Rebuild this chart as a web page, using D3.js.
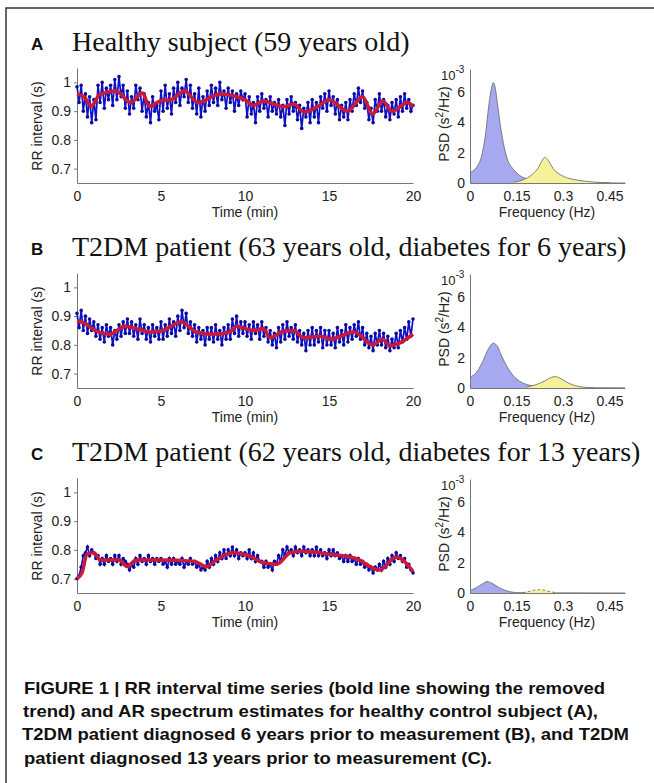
<!DOCTYPE html>
<html lang="en">
<head>
<meta charset="UTF-8">
<title>Figure 1</title>
<style>
  body { margin: 0; background: #fff; }
  svg { display: block; }
</style>
</head>
<body>
<script src="https://d3js.org/d3.v7.min.js"></script>
<script>
// tick labels
let timeTicks = [0, 5, 10, 15, 20];
let rrTicks = [0.7, 0.8, 0.9, 1];
let freqTicks = [0, 0.15, 0.3, 0.45];
let psdTicks = [0, 2, 4, 6];

let panelLetters = ['A', 'B', 'C'];
let panelTitles = [
  'Healthy subject (59 years old)',
  'T2DM patient (63 years old, diabetes for 6 years)',
  'T2DM patient (62 years old, diabetes for 13 years)'
];

// one RR value every 0.125 min (s)
let sampleStep = 0.125;
let rrA = [
  0.985, 0.93, 0.99, 0.90, 0.96, 0.88, 0.95, 0.86,
  0.94, 0.87, 0.99, 0.93, 1.00, 0.91, 0.98, 0.94,
  0.99, 0.92, 1.01, 0.94, 1.02, 0.95, 0.99, 0.91,
  0.97, 0.89, 0.95, 0.91, 0.99, 0.94, 0.98, 0.90,
  0.96, 0.88, 0.93, 0.86, 0.95, 0.90, 0.92, 0.87,
  0.97, 0.90, 0.99, 0.91, 0.96, 0.89, 0.98, 0.93,
  1.00, 0.92, 0.98, 0.95, 1.01, 0.93, 0.99, 0.91,
  0.96, 0.89, 0.98, 0.88, 0.95, 0.90, 0.97, 0.92,
  0.99, 0.93, 0.98, 0.92, 1.00, 0.94, 0.97, 0.91,
  0.98, 0.93, 0.97, 0.90, 0.96, 0.92, 0.97, 0.94,
  0.96, 0.88, 0.95, 0.89, 0.93, 0.86, 0.95, 0.90,
  0.96, 0.91, 0.94, 0.88, 0.95, 0.90, 0.93, 0.89,
  0.94, 0.88, 0.92, 0.85, 0.94, 0.89, 0.95, 0.90,
  0.93, 0.87, 0.92, 0.84, 0.91, 0.88, 0.93, 0.86,
  0.94, 0.88, 0.93, 0.86, 0.95, 0.91, 0.96, 0.90,
  0.97, 0.92, 0.95, 0.89, 0.94, 0.87, 0.92, 0.88,
  0.93, 0.87, 0.94, 0.90, 0.96, 0.92, 0.98, 0.93,
  0.97, 0.91, 0.93, 0.87, 0.91, 0.86, 0.94, 0.90,
  0.96, 0.90, 0.94, 0.88, 0.92, 0.87, 0.93, 0.89,
  0.94, 0.88, 0.95, 0.90, 0.96, 0.91, 0.94, 0.90,
  0.92
];
let rrB = [
  0.91, 0.86, 0.92, 0.85, 0.90, 0.84, 0.89, 0.85,
  0.88, 0.83, 0.87, 0.82, 0.86, 0.81, 0.87, 0.83,
  0.86, 0.80, 0.85, 0.82, 0.87, 0.83, 0.88, 0.84,
  0.89, 0.84, 0.88, 0.83, 0.87, 0.82, 0.89, 0.84,
  0.87, 0.82, 0.86, 0.81, 0.87, 0.83, 0.86, 0.82,
  0.88, 0.82, 0.87, 0.83, 0.89, 0.84, 0.88, 0.83,
  0.90, 0.85, 0.92, 0.86, 0.91, 0.84, 0.88, 0.83,
  0.87, 0.81, 0.86, 0.82, 0.85, 0.80, 0.86, 0.82,
  0.86, 0.81, 0.87, 0.82, 0.85, 0.80, 0.86, 0.82,
  0.87, 0.82, 0.89, 0.84, 0.90, 0.83, 0.88, 0.84,
  0.88, 0.83, 0.87, 0.82, 0.88, 0.84, 0.87, 0.82,
  0.88, 0.83, 0.86, 0.81, 0.85, 0.80, 0.84, 0.79,
  0.86, 0.81, 0.87, 0.82, 0.88, 0.83, 0.86, 0.82,
  0.87, 0.81, 0.85, 0.80, 0.84, 0.78, 0.85, 0.80,
  0.86, 0.80, 0.85, 0.81, 0.86, 0.79, 0.85, 0.80,
  0.85, 0.80, 0.84, 0.79, 0.86, 0.81, 0.85, 0.80,
  0.87, 0.81, 0.86, 0.82, 0.87, 0.83, 0.88, 0.82,
  0.86, 0.80, 0.84, 0.79, 0.83, 0.78, 0.84, 0.80,
  0.85, 0.80, 0.84, 0.79, 0.83, 0.78, 0.82, 0.79,
  0.84, 0.79, 0.85, 0.81, 0.86, 0.82, 0.88, 0.83,
  0.89
];
let rrC = [
  0.70, 0.71, 0.74, 0.78, 0.79, 0.81, 0.78, 0.80,
  0.79, 0.77, 0.78, 0.75, 0.77, 0.75, 0.78, 0.76,
  0.77, 0.75, 0.78, 0.76, 0.78, 0.75, 0.77, 0.76,
  0.75, 0.73, 0.75, 0.74, 0.77, 0.75, 0.78, 0.76,
  0.77, 0.75, 0.78, 0.76, 0.77, 0.75, 0.77, 0.76,
  0.77, 0.75, 0.76, 0.74, 0.77, 0.75, 0.77, 0.75,
  0.76, 0.75, 0.77, 0.74, 0.76, 0.75, 0.77, 0.75,
  0.76, 0.74, 0.75, 0.73, 0.74, 0.73, 0.76, 0.74,
  0.77, 0.75, 0.78, 0.76, 0.79, 0.77, 0.80, 0.77,
  0.80, 0.78, 0.81, 0.78, 0.80, 0.77, 0.79, 0.78,
  0.79, 0.77, 0.80, 0.77, 0.79, 0.76, 0.78, 0.76,
  0.76, 0.74, 0.76, 0.74, 0.75, 0.73, 0.76, 0.75,
  0.78, 0.76, 0.80, 0.78, 0.81, 0.79, 0.80, 0.78,
  0.81, 0.79, 0.80, 0.78, 0.81, 0.79, 0.80, 0.78,
  0.80, 0.78, 0.81, 0.78, 0.80, 0.78, 0.79, 0.77,
  0.80, 0.78, 0.80, 0.78, 0.79, 0.77, 0.78, 0.76,
  0.78, 0.76, 0.78, 0.76, 0.77, 0.75, 0.77, 0.75,
  0.76, 0.74, 0.75, 0.73, 0.74, 0.72, 0.74, 0.73,
  0.75, 0.73, 0.76, 0.74, 0.77, 0.75, 0.78, 0.76,
  0.79, 0.77, 0.78, 0.76, 0.77, 0.74, 0.75, 0.73,
  0.72
];

// removed trend, [min, s]
let trendA = [[0, 0.96], [0.5, 0.945], [0.8, 0.918], [1.0, 0.925], [1.3, 0.955], [2.3, 0.97], [3.2, 0.93],
  [3.9, 0.963], [4.3, 0.917], [4.95, 0.935], [5.6, 0.94], [6.4, 0.97], [7.2, 0.93], [8.5, 0.96],
  [10, 0.94], [10.5, 0.92], [11.1, 0.935], [12.3, 0.915], [12.9, 0.925], [13.5, 0.897], [14.3, 0.915],
  [15, 0.94], [16.1, 0.9], [17.0, 0.95], [17.6, 0.89], [18.2, 0.935], [18.75, 0.9], [19.7, 0.93], [20, 0.915]];
let trendB = [[0, 0.882], [0.5, 0.875], [0.8, 0.86], [1.95, 0.837], [2.85, 0.865], [3.6, 0.855], [4.35, 0.845],
  [5.1, 0.85], [6.2, 0.88], [7.1, 0.845], [8.1, 0.837], [9.1, 0.845], [9.5, 0.865], [10.5, 0.85],
  [11.1, 0.857], [11.5, 0.825], [12.3, 0.848], [12.9, 0.85], [13.5, 0.825], [14.5, 0.83], [15.05, 0.82],
  [16.5, 0.845], [17.6, 0.8], [18.2, 0.82], [18.6, 0.797], [20, 0.837]];
let trendC = [[0, 0.70], [0.3, 0.72], [0.6, 0.785], [1.0, 0.79], [1.4, 0.765], [2.5, 0.765], [3.0, 0.742],
  [3.5, 0.765], [5, 0.765], [7, 0.76], [7.7, 0.742], [8.3, 0.765], [9.3, 0.79], [10.2, 0.78],
  [11.1, 0.755], [11.9, 0.75], [12.7, 0.79], [13.5, 0.795], [15, 0.785], [16.6, 0.77], [18, 0.73],
  [19, 0.775], [20, 0.725]];

// AR spectrum components, [Hz, 1e-3 s^2/Hz]
let lfA = [[0, 0.7], [0.02, 1.0], [0.04, 2.0], [0.05, 3.2], [0.06, 5.0], [0.07, 6.3], [0.075, 6.6], [0.08, 6.4],
  [0.09, 5.0], [0.1, 3.5], [0.11, 2.4], [0.12, 1.6], [0.14, 0.9], [0.16, 0.5], [0.18, 0.3], [0.2, 0.15],
  [0.25, 0.06], [0.3, 0.03], [0.4, 0.01], [0.5, 0]];
let hfA = [[0.14, 0.05], [0.17, 0.2], [0.2, 0.55], [0.22, 1.0], [0.235, 1.55], [0.242, 1.7], [0.25, 1.55],
  [0.27, 0.9], [0.3, 0.45], [0.33, 0.25], [0.37, 0.12], [0.4, 0.06], [0.45, 0.02]];
let lfB = [[0, 0.72], [0.02, 1.0], [0.04, 1.7], [0.06, 2.6], [0.075, 2.95], [0.09, 2.7], [0.1, 2.2], [0.12, 1.4],
  [0.14, 0.8], [0.16, 0.45], [0.18, 0.25], [0.2, 0.15], [0.25, 0.06], [0.3, 0.03], [0.5, 0.01]];
let hfB = [[0.18, 0.05], [0.21, 0.2], [0.24, 0.45], [0.26, 0.68], [0.275, 0.75], [0.29, 0.65], [0.31, 0.4],
  [0.34, 0.15], [0.37, 0.05], [0.4, 0.02]];
let lfC = [[0, 0.15], [0.02, 0.35], [0.04, 0.6], [0.055, 0.75], [0.07, 0.65], [0.09, 0.4], [0.11, 0.2],
  [0.13, 0.08], [0.15, 0.03], [0.2, 0.01], [0.5, 0]];
let hfC = [[0.17, 0.02], [0.19, 0.1], [0.21, 0.2], [0.225, 0.22], [0.24, 0.18], [0.26, 0.08], [0.28, 0.02]];

let captionLines = [
  'FIGURE 1 | RR interval time series (bold line showing the removed',
  'trend) and AR spectrum estimates for healthy control subject (A),',
  'T2DM patient diagnosed 6 years prior to measurement (B), and T2DM',
  'patient diagnosed 13 years prior to measurement (C).'
];

let width = 654, height = 783;
let panelGap = 205;
let panels = [
  { rr: rrA, trend: trendA, lf: lfA, hf: hfA },
  { rr: rrB, trend: trendB, lf: lfB, hf: hfB },
  { rr: rrC, trend: trendC, lf: lfC, hf: hfC }
];

let svg = d3.select('body').append('svg')
    .attr('width', width)
    .attr('height', height);

// frame
svg.append('path')
    .attr('d', 'M6,783V8H654')
    .attr('fill', 'none')
    .attr('stroke', '#333')
    .attr('stroke-width', 1.5);

let xTime = d3.scaleLinear().domain([0, 20]).range([77, 413]);
let yRR = d3.scaleLinear().domain([0.65, 1.05]).range([183, 68]);
let xFreq = d3.scaleLinear().domain([0, 0.5]).range([470, 625]);
let yPsd = d3.scaleLinear().domain([0, 7.5]).range([183, 69]);

let tickFont = '"Liberation Sans", Arial, sans-serif';
let axisColor = '#777';

function styleAxis(g) {
  g.select('.domain').attr('stroke', axisColor);
  g.selectAll('.tick line').attr('stroke', axisColor);
  g.selectAll('.tick text')
      .attr('fill', '#222')
      .attr('font-family', tickFont)
      .attr('font-size', 14);
}

let rrLine = d3.line()
    .x(function(d, i) { return xTime(i * sampleStep); })
    .y(function(d) { return yRR(d); });
let trendLine = d3.line()
    .x(function(d) { return xTime(d[0]); })
    .y(function(d) { return yRR(d[1]); })
    .curve(d3.curveMonotoneX);
let psdArea = d3.area()
    .x(function(d) { return xFreq(d[0]); })
    .y0(yPsd(0))
    .y1(function(d) { return yPsd(d[1]); })
    .curve(d3.curveMonotoneX);
let psdEdge = d3.line()
    .x(function(d) { return xFreq(d[0]); })
    .y(function(d) { return yPsd(d[1]); })
    .curve(d3.curveMonotoneX);

panels.forEach(function(p, k) {
  let g = svg.append('g').attr('transform', 'translate(0,' + (k * panelGap) + ')');

  // heading
  g.append('text')
      .attr('x', 31).attr('y', 50)
      .attr('font-family', tickFont)
      .attr('font-weight', 'bold')
      .attr('font-size', 17)
      .attr('fill', '#111')
      .text(panelLetters[k]);
  g.append('text')
      .attr('x', 72).attr('y', 51)
      .attr('font-family', '"Liberation Serif", "Times New Roman", serif')
      .attr('font-size', 28)
      .attr('fill', '#111')
      .text(panelTitles[k]);

  // RR time series
  g.append('g')
      .attr('transform', 'translate(0,183)')
      .call(d3.axisBottom(xTime).tickValues(timeTicks).tickSizeInner(0).tickSizeOuter(0).tickPadding(8))
      .call(styleAxis);
  g.append('g')
      .attr('transform', 'translate(77,0)')
      .call(d3.axisLeft(yRR).tickValues(rrTicks).tickSizeInner(3).tickSizeOuter(0).tickPadding(3)
        .tickFormat(function(d) { return d === 1 ? '1' : d3.format('.1f')(d); }))
      .call(styleAxis);

  g.append('path')
      .attr('d', rrLine(p.rr))
      .attr('fill', 'none')
      .attr('stroke', '#1010c4')
      .attr('stroke-width', 1.7);
  g.append('g').selectAll('circle')
      .data(p.rr)
      .enter()
      .append('circle')
      .attr('cx', function(d, i) { return xTime(i * sampleStep); })
      .attr('cy', function(d) { return yRR(d); })
      .attr('r', 1.8)
      .attr('fill', '#0a0aa0');
  g.append('path')
      .attr('d', trendLine(p.trend))
      .attr('fill', 'none')
      .attr('stroke', '#cc1a36')
      .attr('stroke-width', 3.5);

  g.append('text')
      .attr('transform', 'translate(42,126) rotate(-90)')
      .attr('text-anchor', 'middle')
      .attr('font-family', tickFont)
      .attr('font-size', 14)
      .attr('fill', '#222')
      .text('RR interval (s)');
  g.append('text')
      .attr('x', 245).attr('y', 217)
      .attr('text-anchor', 'middle')
      .attr('font-family', tickFont)
      .attr('font-size', 14)
      .attr('fill', '#222')
      .text('Time (min)');

  // PSD
  g.append('path')
      .attr('d', psdArea(p.lf))
      .attr('fill', '#a6a8f0');
  g.append('path')
      .attr('d', psdEdge(p.lf))
      .attr('fill', 'none')
      .attr('stroke', '#666')
      .attr('stroke-width', 0.8);
  g.append('path')
      .attr('d', psdArea(p.hf))
      .attr('fill', '#f6f29c');
  g.append('path')
      .attr('d', psdEdge(p.hf))
      .attr('fill', 'none')
      .attr('stroke', '#666')
      .attr('stroke-width', 0.8)
      .attr('stroke-dasharray', k === 2 ? '3,2' : null);

  g.append('g')
      .attr('transform', 'translate(0,183)')
      .call(d3.axisBottom(xFreq).tickValues(freqTicks).tickSizeInner(0).tickSizeOuter(0).tickPadding(8)
        .tickFormat(function(d) { return d === 0 ? '0' : String(d); }))
      .call(styleAxis);
  g.append('g')
      .attr('transform', 'translate(470,0)')
      .call(d3.axisLeft(yPsd).tickValues(psdTicks).tickSizeInner(0).tickSizeOuter(0).tickPadding(5))
      .call(styleAxis);

  let expo = g.append('text')
      .attr('x', 441).attr('y', 80)
      .attr('font-family', tickFont)
      .attr('font-size', 13)
      .attr('fill', '#222');
  expo.append('tspan').text('10');
  expo.append('tspan').attr('dy', -7).attr('font-size', 10).text('-3');

  let psdLabel = g.append('text')
      .attr('transform', 'translate(449,124) rotate(-90)')
      .attr('text-anchor', 'middle')
      .attr('font-family', tickFont)
      .attr('font-size', 14)
      .attr('fill', '#222');
  psdLabel.append('tspan').text('PSD (s');
  psdLabel.append('tspan').attr('dy', -6).attr('font-size', 10).text('2');
  psdLabel.append('tspan').attr('dy', 6).text('/Hz)');

  g.append('text')
      .attr('x', 547).attr('y', 217)
      .attr('text-anchor', 'middle')
      .attr('font-family', tickFont)
      .attr('font-size', 14)
      .attr('fill', '#222')
      .text('Frequency (Hz)');
});

// caption
let captionX = [24, 23, 22, 24];
let captionEnd = [605, 598, 629, 492];
svg.append('g').selectAll('text')
    .data(captionLines)
    .enter()
    .append('text')
    .attr('x', function(d, i) { return captionX[i]; })
    .attr('y', function(d, i) { return 694 + i * 23.2; })
    .attr('font-family', tickFont)
    .attr('font-weight', 'bold')
    .attr('font-size', 16.5)
    .attr('fill', '#111')
    .attr('textLength', function(d, i) { return captionEnd[i] - captionX[i]; })
    .attr('lengthAdjust', 'spacingAndGlyphs')
    .text(function(d) { return d; });
</script>
</body>
</html>
